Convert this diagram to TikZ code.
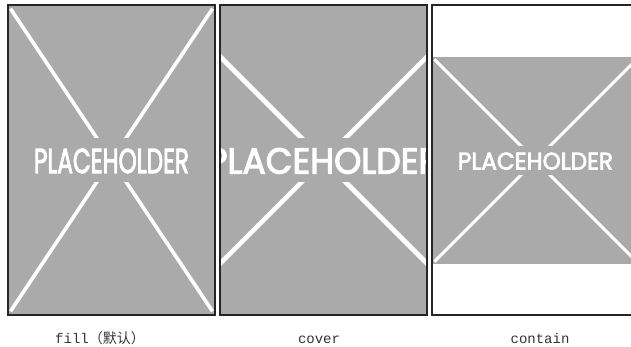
\documentclass[tikz,border=0pt]{standalone}
\usepackage{fontspec}
\usepackage{graphicx}
\setmonofont{Liberation Mono}
\newfontfamily\phfont[FakeBold=3]{Poppins}
\newfontfamily\cjkfont{Noto Sans CJK SC}
\definecolor{phgray}{HTML}{AAAAAA}
\definecolor{framecol}{HTML}{262626}
\definecolor{labelcol}{HTML}{333333}
% #1,#2 origin; #3,#4 size; #5 line width; #6,#7 text box size
\newcommand\phimg[7]{%
  \begin{scope}[shift={(#1,#2)},xscale=#3,yscale=#4]
    \fill[phgray] (0,0) rectangle (1,1);
    \draw[phcross,line width=#5] (0.012,0.012) -- (0.988,0.988)
                                 (0.988,0.012) -- (0.012,0.988);
    \fill[phgray] (0.12,0.43) rectangle (0.88,0.572);
    \node[phtext] at (0.5,0.503) {\resizebox{#6pt}{#7pt}{\phfont PLACEHOLDER}};
  \end{scope}}
\tikzset{
  phcross/.style={draw=white,line cap=butt},
  phtext/.style={text=white,inner sep=0pt,outer sep=0pt},
  framebox/.style={draw=framecol,line width=1.2pt},
  caption/.style={text=labelcol,inner sep=0pt,font=\ttfamily\fontsize{14}{16}\selectfont}
}
\begin{document}
\begin{tikzpicture}[x=1pt,y=-1pt]
  \useasboundingbox (0,0) rectangle (631,346);
  \clip (0,0) rectangle (631,346);
  % fill
  \begin{scope}
    \clip (8,5) rectangle (215,315);
    \phimg{8}{5}{207}{310}{3.6pt}{155}{24.5}
  \end{scope}
  \draw[framebox] (8,5) rectangle (215,315);
  % cover
  \begin{scope}
    \clip (220,5) rectangle (427,315);
    \phimg{168.5}{5}{310}{310}{4.6pt}{232}{25.5}
  \end{scope}
  \draw[framebox] (220,5) rectangle (427,315);
  % contain
  \begin{scope}
    \clip (432,5) rectangle (639,315);
    \phimg{432}{57}{207}{207}{3.1pt}{155}{17}
  \end{scope}
  \draw[framebox] (432,5) rectangle (639,315);
  % captions
  \node[caption,anchor=base west] (capfill) at (55,343) {fill{\cjkfont （默认）}};
  \node[caption,anchor=base] (capcover) at (319,343) {cover};
  \node[caption,anchor=base] (capcontain) at (540,343) {contain};
\end{tikzpicture}
\end{document}
